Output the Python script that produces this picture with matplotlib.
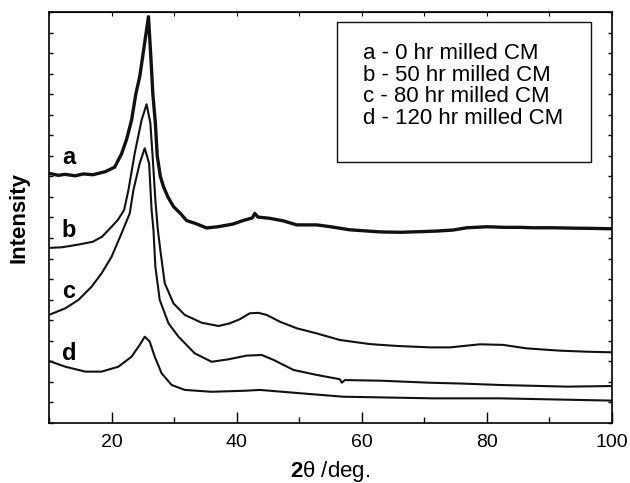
import matplotlib as mpl
mpl.use('agg')
import matplotlib.pyplot as plt
from matplotlib.patches import Rectangle
from matplotlib.ticker import MultipleLocator

plt.rcParams['font.family'] = ['Liberation Sans', 'DejaVu Sans']
plt.rcParams['mathtext.fontset'] = 'custom'
plt.rcParams['mathtext.rm'] = 'Liberation Sans'
plt.rcParams['mathtext.bf'] = 'Liberation Sans:bold'

# ---- data (2theta in deg, intensity in arb. units) ----
x_a = [10.0, 11.5, 12.5, 14.2, 15.5, 17.0, 19.0, 20.5, 21.6, 22.4, 23.2, 23.9, 24.5,
       25.2, 25.9, 26.3, 26.6, 27.0, 27.3, 27.8, 28.3, 29.0, 29.9, 31.0, 32.0,
       33.5, 35.2, 37.0, 39.4, 41.0, 42.5, 42.9, 43.4, 45.3, 47.4, 49.6, 52.8, 55.0,
       58.1, 62.9, 66.1, 69.3, 72.0, 74.6, 76.8, 80.0, 83.0, 85.3, 87.4, 90.6, 94.0,
       97.0, 100.0]
y_a = [12.15, 12.05, 12.10, 12.03, 12.12, 12.08, 12.23, 12.45, 13.10, 13.80, 14.74,
       16.04, 16.85, 18.30, 19.77, 17.70, 16.00, 14.60, 13.00, 12.00, 11.50,
       11.00, 10.53, 10.20, 9.85, 9.70, 9.49, 9.55, 9.68, 9.85, 9.98, 10.20, 10.02,
       9.96, 9.84, 9.64, 9.64, 9.55, 9.40, 9.30, 9.28, 9.31, 9.34, 9.39, 9.50, 9.55,
       9.52, 9.52, 9.50, 9.50, 9.48, 9.47, 9.45]

x_b = [10.0, 12.0, 13.5, 15.0, 17.0, 18.5, 20.0, 21.0, 22.0, 22.7, 23.7, 24.8, 25.6,
       26.2, 26.6, 27.0, 27.4, 27.8, 28.5, 29.9, 31.7, 34.4, 37.1, 38.9, 40.5, 42.1,
       43.5, 44.8, 46.9, 49.6, 52.8, 56.5, 61.3, 65.6, 70.9, 74.1, 78.9, 82.6, 86.4,
       91.7, 96.0, 100.0]
y_b = [8.52, 8.55, 8.62, 8.70, 8.82, 9.07, 9.55, 9.88, 10.36, 11.34, 13.12, 14.74,
       15.51, 14.60, 12.80, 10.85, 9.40, 8.40, 6.80, 5.82, 5.26, 4.88, 4.72, 4.85,
       5.05, 5.34, 5.36, 5.26, 4.93, 4.61, 4.36, 4.04, 3.84, 3.75, 3.68, 3.68, 3.83,
       3.80, 3.63, 3.52, 3.47, 3.44]

x_c = [10.0, 12.6, 14.7, 16.8, 18.4, 20.0, 21.6, 22.9, 23.5, 24.5, 25.3, 26.0, 26.4,
       26.7, 27.0, 27.7, 29.1, 30.7, 33.3, 36.0, 38.7, 41.6, 44.0, 45.9, 49.1, 52.8,
       56.5, 56.8, 57.3, 62.9, 70.9, 76.0, 82.1, 92.8, 100.0]
y_c = [5.26, 5.58, 5.99, 6.63, 7.28, 8.09, 9.23, 10.20, 11.34, 12.64, 13.37, 12.64,
       10.36, 9.39, 7.61, 5.99, 4.85, 4.20, 3.39, 2.98, 3.10, 3.28, 3.31, 3.07, 2.58,
       2.34, 2.13, 1.96, 2.09, 2.06, 1.96, 1.92, 1.85, 1.77, 1.80]

x_d = [10.0, 12.6, 15.8, 18.4, 21.1, 23.2, 24.5, 25.3, 26.1, 26.9, 28.0, 29.6, 31.7,
       36.0, 41.3, 43.7, 50.1, 57.0, 71.4, 82.1, 100.0]
y_d = [3.02, 2.74, 2.50, 2.50, 2.74, 3.23, 3.80, 4.20, 3.96, 3.23, 2.42, 1.85, 1.61,
       1.52, 1.57, 1.61, 1.45, 1.28, 1.20, 1.20, 1.09]

curve_labels = ['a', 'b', 'c', 'd']
label_y = [12.6, 9.05, 6.08, 3.07]
legend_lines = ['a - 0 hr milled CM', 'b - 50 hr milled CM',
                'c - 80 hr milled CM', 'd - 120 hr milled CM']

# ---- figure ----
fig = plt.figure(figsize=(6.3, 4.83), dpi=100)
ax = fig.add_axes([0.0778, 0.1242, 0.8936, 0.851])

ink = '#111111'
ax.plot(x_a, y_a, color=ink, lw=2.4)
ax.plot(x_b, y_b, color=ink, lw=1.5)
ax.plot(x_c, y_c, color=ink, lw=1.5)
ax.plot(x_d, y_d, color=ink, lw=1.5)

for lab, yy in zip(curve_labels, label_y):
    ax.text(12.05, yy, lab, fontsize=17, fontweight='bold', ha='left', va='baseline')

# legend box drawn by hand
ax.add_patch(Rectangle((0.511, 0.635), 0.452, 0.340, transform=ax.transAxes,
                       fill=False, lw=1.0, ec=ink))
for i, t in enumerate(legend_lines):
    ax.text(0.557, 0.885 - i * 0.0525, t, transform=ax.transAxes,
            fontsize=16, ha='left', va='baseline')

ax.set_xlim(10, 100)
ax.set_ylim(0, 20)
ax.xaxis.set_major_locator(MultipleLocator(20))
ax.xaxis.set_minor_locator(MultipleLocator(10))
ax.yaxis.set_major_locator(MultipleLocator(1))
ax.tick_params(axis='x', which='major', direction='in', length=8, width=1,
               labelsize=14, pad=8, top=False)
ax.tick_params(axis='x', which='minor', direction='in', length=4, width=1, top=False)
ax.tick_params(axis='y', which='major', direction='in', length=3, width=1,
               left=True, right=True, labelleft=False)
ax.set_xticks([20, 40, 60, 80, 100])

top = ax.secondary_xaxis('top')
top.set_xticks(range(10, 101, 10))
top.tick_params(direction='in', length=3, labeltop=False)

for s in ax.spines.values():
    s.set_linewidth(1.2)

ax.set_xlabel(r'$\mathbf{2}$θ /deg.', fontsize=16, labelpad=6)
ax.set_ylabel('Intensity', fontsize=16, fontweight='bold', labelpad=14)

plt.savefig('out.png', dpi=100)
